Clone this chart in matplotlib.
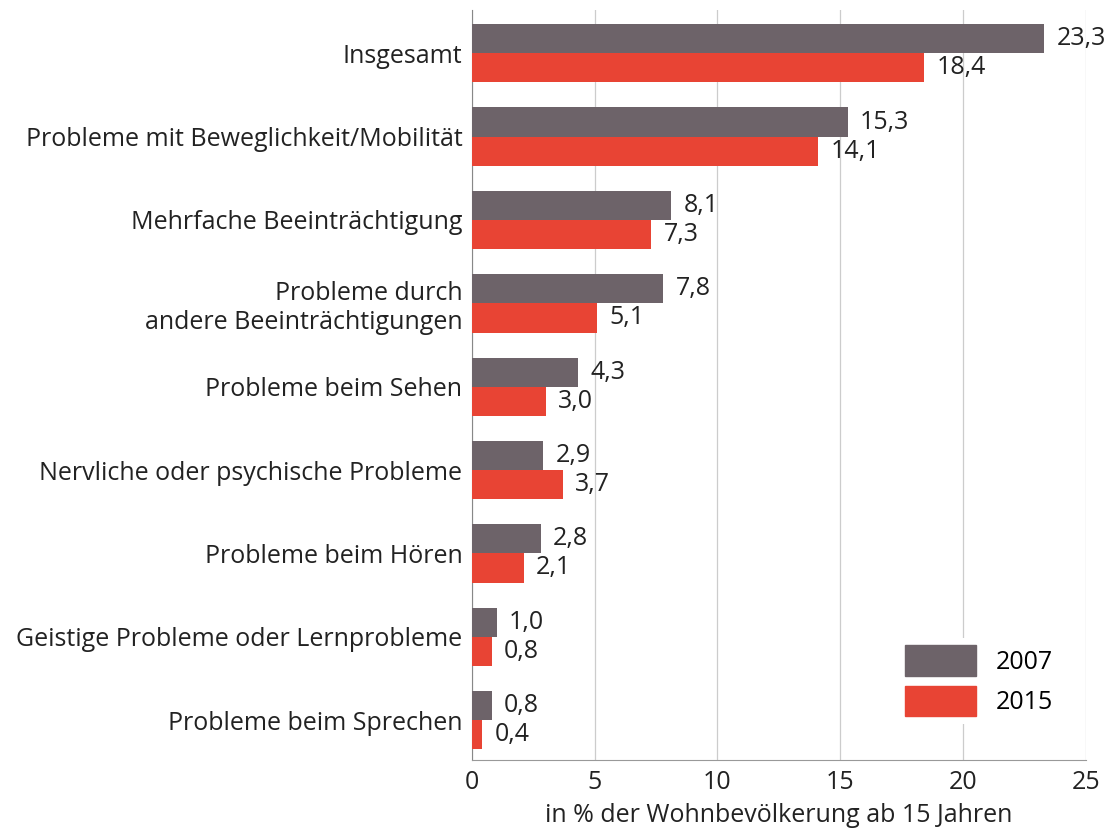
import numpy as np
import matplotlib.pyplot as plt
from matplotlib.patches import Patch

# Data
categories = [
    "Insgesamt",
    "Probleme mit Beweglichkeit/Mobilität",
    "Mehrfache Beeinträchtigung",
    "Probleme durch\nandere Beeinträchtigungen",
    "Probleme beim Sehen",
    "Nervliche oder psychische Probleme",
    "Probleme beim Hören",
    "Geistige Probleme oder Lernprobleme",
    "Probleme beim Sprechen",
]
values_2007 = [23.3, 15.3, 8.1, 7.8, 4.3, 2.9, 2.8, 1.0, 0.8]
values_2015 = [18.4, 14.1, 7.3, 5.1, 3.0, 3.7, 2.1, 0.8, 0.4]
series_labels = ["2007", "2015"]
xticks = [0, 5, 10, 15, 20, 25]
xlabel = "in % der Wohnbevölkerung ab 15 Jahren"

gray = "#6d6369"
red = "#e84434"

plt.rcParams['font.family'] = ['Open Sans', 'DejaVu Sans']
fs = 18

fig = plt.figure(figsize=(11.09, 8.32), dpi=100)
ax = fig.add_axes([0.4256, 0.0865, 0.979 - 0.4256, 0.988 - 0.0865])

y = np.arange(len(categories))
h = 0.35
b1 = ax.barh(y - h / 2, values_2007, height=h, color=gray, zorder=3)
b2 = ax.barh(y + h / 2, values_2015, height=h, color=red, zorder=3)

def fmt(v):
    return ("%.1f" % v).replace(".", ",")

for bars, vals in [(b1, values_2007), (b2, values_2015)]:
    for rect, v in zip(bars, vals):
        ax.annotate(fmt(v), (rect.get_width(), rect.get_y() + rect.get_height() / 2),
                    xytext=(9, 0), textcoords="offset points",
                    va="center", ha="left", fontsize=fs, color="#222222")

ax.set_xlim(0, 25)
ax.set_ylim(len(categories) - 0.52, -0.52)
ax.set_yticks(y)
ax.set_yticklabels(categories, fontsize=fs, color="#222222")
ax.set_xticks(xticks)
ax.set_xticklabels([str(t) for t in xticks], fontsize=fs, color="#222222")
ax.tick_params(axis="y", length=0, pad=7)
ax.tick_params(axis="x", length=0, pad=7)
ax.set_xlabel(xlabel, fontsize=fs, color="#222222", labelpad=6)

ax.grid(axis="x", color="#cccccc", lw=0.9, zorder=0)
for s in ["top", "right"]:
    ax.spines[s].set_visible(False)
ax.spines["left"].set_color("#888888")
ax.spines["bottom"].set_color("#999999")

handles = [Patch(color=gray), Patch(color=red)]
leg = ax.legend(handles, series_labels, loc="lower right", bbox_to_anchor=(0.98, 0.032),
                fontsize=fs, frameon=True, handlelength=2.85, handleheight=1.5,
                handletextpad=0.8, labelspacing=0.4, borderpad=0.3)
leg.get_frame().set_edgecolor("none")
leg.get_frame().set_facecolor("white")
leg.get_frame().set_alpha(1)
leg.set_zorder(5)

plt.savefig("out.png", dpi=100)
